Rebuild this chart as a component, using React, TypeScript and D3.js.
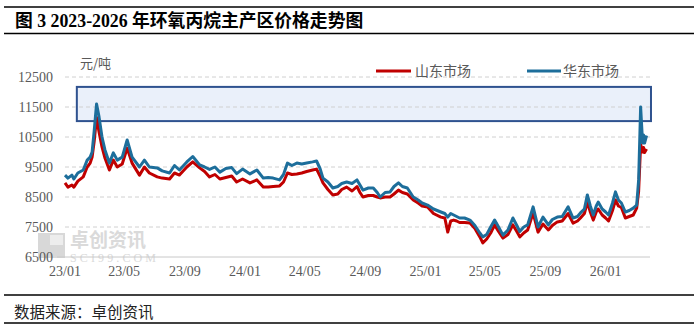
import React from "react";
import * as d3 from "d3";

const title = "图 3 2023-2026 年环氧丙烷主产区价格走势图";
const source = "数据来源：卓创资讯";
const unit = "元/吨";
const seriesNames = ["山东市场", "华东市场"];
const seriesColors = ["#C00000", "#1D6E9B"];
const yTicks = [6500, 7500, 8500, 9500, 10500, 11500, 12500];
const xTickDates = ["2023-01-01", "2023-05-01", "2023-09-01", "2024-01-01", "2024-05-01", "2024-09-01", "2025-01-01", "2025-05-01", "2025-09-01", "2026-01-01"];

const dates = [
  "2023-01-01","2023-01-07","2023-01-15","2023-01-19","2023-01-27","2023-02-07","2023-02-15","2023-02-21","2023-02-25","2023-03-01",
  "2023-03-06","2023-03-11","2023-03-17","2023-03-23","2023-04-01","2023-04-09","2023-04-17","2023-04-27","2023-05-07","2023-05-17",
  "2023-06-01","2023-06-11","2023-06-21","2023-07-07","2023-07-17","2023-08-01","2023-08-11","2023-08-21","2023-09-05","2023-09-17",
  "2023-10-01","2023-10-11","2023-10-21","2023-11-01","2023-11-11","2023-11-23","2023-12-05","2023-12-15","2023-12-27","2024-01-11",
  "2024-01-25","2024-02-07","2024-02-17","2024-02-27","2024-03-11","2024-03-19","2024-03-27","2024-04-05","2024-04-15","2024-04-25",
  "2024-05-05","2024-05-17","2024-05-25","2024-06-01","2024-06-07","2024-06-17","2024-06-27","2024-07-07","2024-07-15","2024-07-25",
  "2024-08-05","2024-08-15","2024-08-21","2024-08-27","2024-09-07","2024-09-17","2024-09-25","2024-10-01","2024-10-11","2024-10-21",
  "2024-10-29","2024-11-07","2024-11-15","2024-11-25","2024-12-07","2024-12-17","2024-12-25","2025-01-05","2025-01-17","2025-02-01",
  "2025-02-09","2025-02-15","2025-02-21","2025-02-27","2025-03-05","2025-03-11","2025-03-21","2025-04-01","2025-04-11","2025-04-21",
  "2025-04-27","2025-05-05","2025-05-13","2025-05-21","2025-05-29","2025-06-07","2025-06-17","2025-06-27","2025-07-05","2025-07-11",
  "2025-07-19","2025-07-27","2025-08-07","2025-08-17","2025-08-27","2025-09-07","2025-09-15","2025-09-25","2025-10-05","2025-10-17",
  "2025-10-27","2025-11-05","2025-11-11","2025-11-19","2025-11-25","2025-12-01","2025-12-07","2025-12-13","2025-12-17","2025-12-25",
  "2026-01-01","2026-01-07","2026-01-15","2026-01-21","2026-01-27","2026-02-02","2026-02-10","2026-02-18","2026-02-26","2026-03-05",
  "2026-03-09","2026-03-13","2026-03-17","2026-03-19","2026-03-21","2026-03-25"
];

const shandong = [
  8970,8830,8900,8830,9030,9170,9500,9630,9830,10330,
  11150,10670,10170,9800,9400,9730,9500,9600,10130,9630,
  9230,9500,9300,9170,9130,9100,9300,9230,9500,9670,
  9470,9350,9170,9250,9100,9150,9200,9000,9100,8970,
  9070,8830,8830,8850,8870,9000,9300,9250,9270,9300,
  9350,9400,9430,9200,8970,8750,8570,8600,8750,8830,
  8700,8850,8650,8500,8550,8550,8500,8470,8500,8500,
  8600,8730,8650,8600,8400,8300,8200,8170,7950,7830,
  7800,7330,7700,7730,7700,7650,7650,7630,7450,7170,
  6970,7100,7300,7570,7350,7130,7250,7570,7350,7170,
  7300,7400,7970,7330,7600,7400,7550,7670,7700,7950,
  7630,7700,7800,7950,8330,8000,7730,8000,8100,7900,
  7800,7700,8050,8400,8200,8150,7800,7850,7900,8130,
  8700,10250,10000,10150,9980,10100
];

const huadong = [
  9230,9130,9230,9100,9300,9400,9730,9830,10000,10670,
  11600,11170,10500,10070,9630,9970,9730,9830,10400,9830,
  9500,9730,9500,9470,9370,9300,9550,9400,9670,9850,
  9570,9500,9420,9500,9330,9450,9480,9280,9430,9270,
  9400,9130,9150,9130,9070,9250,9630,9550,9630,9600,
  9630,9670,9700,9450,9130,9000,8800,8850,8950,9000,
  8950,9070,8900,8730,8800,8800,8650,8500,8650,8670,
  8850,8970,8850,8800,8500,8400,8300,8230,8100,8000,
  7950,7830,7950,7900,7850,7800,7800,7730,7550,7300,
  7170,7250,7500,7730,7500,7230,7400,7800,7550,7350,
  7500,7570,8170,7500,7830,7570,7750,7830,7850,8170,
  7800,7850,7970,8100,8570,8200,7900,8200,8330,8100,
  8000,7900,8300,8670,8400,8300,8000,8050,8130,8230,
  9070,11500,10300,10570,10300,10550
];

const highlightStart = "2023-01-25";
const highlightEnd = "2026-04-03";
const highlightLow = 11030;
const highlightHigh = 12170;

export default function App() {
  const parse = d3.timeParse("%Y-%m-%d");
  const x = d3.scaleTime().domain([parse("2023-01-01")!, parse("2026-04-01")!]).range([65, 650]);
  const y = d3.scaleLinear().domain([6500, 12500]).range([257, 77]);
  const fmt = d3.timeFormat("%y/%m");
  const pts = dates.map((d) => parse(d)!);
  const line = d3
    .line<number>()
    .x((_, i) => x(pts[i]))
    .y((v) => y(v))
    .curve(d3.curveLinear);
  const serif = "'Liberation Serif', 'Noto Sans CJK SC', serif";
  const cjk = "'Noto Sans CJK SC', sans-serif";
  const gray = "#595959";

  return (
    <svg width={697} height={326} style={{ position: "absolute", left: 0, top: 0, background: "#fff" }}>
      <rect x={0} y={0} width={697} height={326} fill="#fff" />
      {/* frame lines */}
      <line x1={4} x2={694} y1={7} y2={7} stroke="#000" strokeWidth={1.5} />
      <line x1={4} x2={694} y1={33.5} y2={33.5} stroke="#000" strokeWidth={1.5} />
      <line x1={4} x2={694} y1={295} y2={295} stroke="#000" strokeWidth={1.5} />
      <line x1={4} x2={694} y1={323} y2={323} stroke="#000" strokeWidth={1.5} />
      <text x={15} y={27} fontFamily={serif} fontWeight="bold" fontSize={17.8} fill="#000">{title}</text>
      <text x={14} y={318} fontFamily={cjk} fontSize={15.5} fill="#222">{source}</text>

      {/* watermark */}
      <g opacity={0.9}>
        <rect x={38} y={233} width={27} height={25} fill="#d4d4d4" />
        <rect x={50} y={235} width={13} height={10} fill="#ececec" />
        <text x={70} y={247} fontFamily={cjk} fontSize={19} fontWeight="bold" fill="#d6d6d6">卓创资讯</text>
        <text x={70} y={262} fontFamily={serif} fontSize={12} fill="#d6d6d6" textLength={86}>SCI99.COM</text>
      </g>

      {/* highlight box */}
      <rect
        x={x(parse(highlightStart)!)}
        y={y(highlightHigh)}
        width={x(parse(highlightEnd)!) - x(parse(highlightStart)!)}
        height={y(highlightLow) - y(highlightHigh)}
        fill="#EAF0FA"
        stroke="#2F528F"
        strokeWidth={2}
      />

      {/* grid */}
      {yTicks.map((t) =>
        t === 6500 ? (
          <line key={t} x1={57} x2={650} y1={y(t)} y2={y(t)} stroke="#c8c8c8" strokeWidth={1} />
        ) : (
          <line key={t} x1={65} x2={650} y1={y(t)} y2={y(t)} stroke="#d0d0d0" strokeWidth={1} strokeDasharray="4,3" />
        )
      )}
      {yTicks.map((t) => (
        <text key={"l" + t} x={53} y={y(t) + 5} textAnchor="end" fontFamily={serif} fontSize={14} fill={gray}>{t}</text>
      ))}
      {xTickDates.map((d) => (
        <text key={d} x={x(parse(d)!)} y={276} textAnchor="middle" fontFamily={serif} fontSize={14} fill={gray}>{fmt(parse(d)!)}</text>
      ))}
      <text x={80} y={68} fontFamily={cjk} fontSize={13} fill={gray}>{unit}</text>

      {/* legend */}
      <line x1={376} x2={411} y1={71} y2={71} stroke={seriesColors[0]} strokeWidth={3} />
      <text x={415} y={76} fontFamily={cjk} fontSize={14} fill={gray}>{seriesNames[0]}</text>
      <line x1={527} x2={561} y1={71} y2={71} stroke={seriesColors[1]} strokeWidth={3} />
      <text x={563} y={76} fontFamily={cjk} fontSize={14} fill={gray}>{seriesNames[1]}</text>

      {/* series */}
      <path d={line(shandong) || ""} fill="none" stroke={seriesColors[0]} strokeWidth={3} strokeLinejoin="round" />
      <path d={line(huadong) || ""} fill="none" stroke={seriesColors[1]} strokeWidth={3} strokeLinejoin="round" />
    </svg>
  );
}
